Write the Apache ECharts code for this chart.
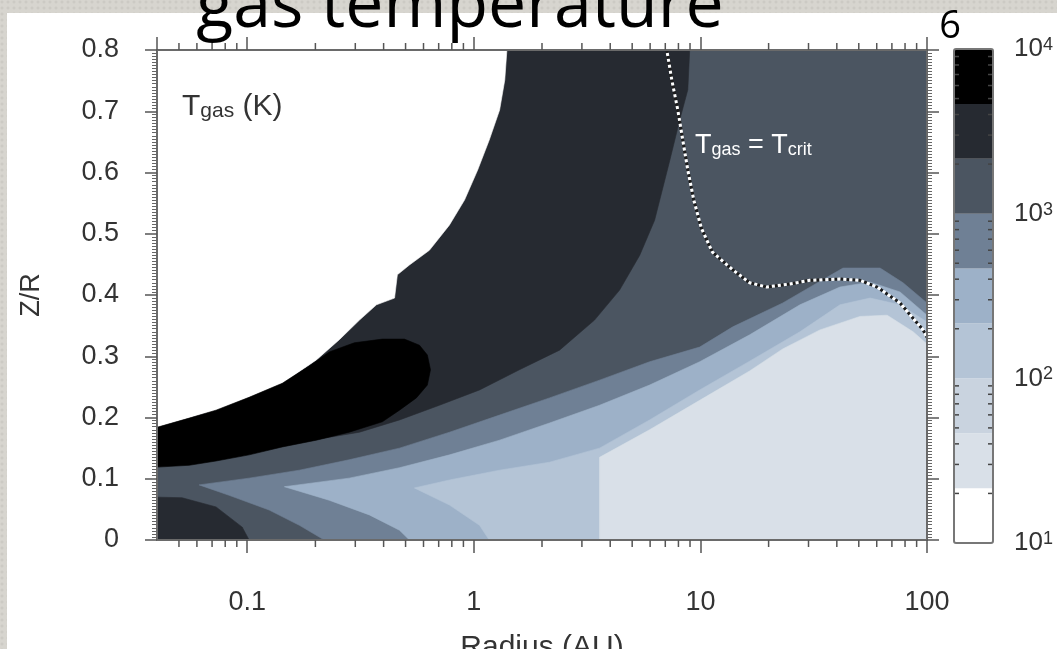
<!DOCTYPE html>
<html><head><meta charset="utf-8">
<script src="https://cdn.jsdelivr.net/npm/echarts@6/dist/echarts.min.js"></script>
<style>
html,body{margin:0;padding:0;width:1057px;height:649px;overflow:hidden;
 background:radial-gradient(circle at 2px 2px, rgba(0,0,0,0.05) 1px, transparent 2px) 0 0/6px 6px, #d7d5cf;}
#panel{position:absolute;left:7px;top:13px;right:0;bottom:0;background:#fff;}
#chart{position:absolute;left:0;top:0;width:1057px;height:649px;}
</style></head><body>
<div id="panel"></div><div id="chart"></div>
<script>
// ---- colour levels (K), 1/3-decade bands from 10 K to 10^4 K ----
const levelEdgesK = [10, 21.5, 46.4, 100, 215, 464, 1000, 2154, 4642, 10000];
const levelColors = ['#ffffff','#d9e0e8','#c9d3df','#b4c4d6','#9db1c8','#6f8095','#4b5561','#262a31','#000000'];

// ---- axis ticks ----
const xTickLabels = [0.1, 1, 10, 100];
const xMinorTicks = [0.05,0.06,0.07,0.08,0.09,0.2,0.3,0.4,0.5,0.6,0.7,0.8,0.9,2,3,4,5,6,7,8,9,20,30,40,50,60,70,80,90];
const cbarMinorTicks = [20,30,40,50,60,70,80,90,200,300,400,500,600,700,800,900,2000,3000,4000,5000,6000,7000,8000,9000];

// ---- contour regions, [radius (AU), Z/R] outlines ----
const regionL3Base = [[0.04,0],[100,0],[100,0.8],[0.04,0.8]];
const regionL2Upper = [[0.04,0.8],[8.97,0.8],[8.8,0.735],[8.11,0.686],[7.33,0.620],[6.28,0.522],[5.40,0.465],[4.40,0.408],[3.41,0.359],[2.39,0.310],[1.59,0.278],[1.06,0.245],[0.705,0.220],[0.470,0.196],[0.313,0.176],[0.208,0.165],[0.04,0.150]];
const regionL2Lower = [[0.04,0],[0.04,0.070],[0.0516,0.069],[0.0729,0.054],[0.0951,0.021],[0.102,0]];
const regionL4 = [[0.0614,0.090],[0.102,0.101],[0.170,0.114],[0.282,0.131],[0.470,0.150],[0.782,0.176],[1.30,0.204],[2.16,0.232],[3.59,0.261],[5.97,0.291],[9.93,0.315],[13.9,0.348],[23.1,0.387],[36.2,0.429],[42.6,0.444],[62.1,0.444],[78.4,0.420],[100,0.387],[100,0],[0.219,0],[0.170,0.024],[0.125,0.049],[0.0832,0.073]];
const regionL5 = [[0.146,0.087],[0.282,0.101],[0.470,0.118],[0.782,0.139],[1.30,0.163],[2.16,0.191],[3.59,0.220],[5.97,0.253],[9.93,0.291],[16.5,0.335],[27.5,0.384],[41.3,0.413],[56.1,0.421],[76.0,0.405],[100,0.367],[100,0],[0.520,0],[0.470,0.016],[0.346,0.041],[0.230,0.065]];
const regionL6 = [[0.547,0.085],[0.782,0.098],[1.30,0.114],[2.16,0.127],[3.59,0.150],[5.97,0.196],[9.93,0.245],[16.5,0.292],[27.5,0.340],[41.3,0.384],[56.1,0.395],[76.0,0.384],[100,0.356],[100,0],[1.17,0],[1.06,0.024],[0.782,0.057]];
const regionL8 = [[3.59,0],[3.59,0.135],[5.97,0.180],[9.93,0.228],[16.5,0.276],[23.1,0.312],[33.7,0.343],[50.6,0.365],[66.7,0.367],[86.8,0.340],[100,0.320],[100,0]];
const regionWhite = [[0.04,0.8],[1.40,0.8],[1.37,0.751],[1.30,0.702],[1.17,0.653],[1.04,0.604],[0.91,0.555],[0.78,0.514],[0.637,0.473],[0.52,0.449],[0.46,0.433],[0.447,0.395],[0.372,0.384],[0.313,0.359],[0.255,0.327],[0.202,0.294],[0.143,0.256],[0.102,0.233],[0.0729,0.212],[0.0555,0.199],[0.04,0.184]];
const regionL1Blob = [[0.04,0.184],[0.0555,0.199],[0.0729,0.212],[0.102,0.233],[0.143,0.256],[0.188,0.284],[0.230,0.307],[0.297,0.322],[0.395,0.328],[0.494,0.328],[0.576,0.318],[0.624,0.302],[0.644,0.278],[0.624,0.253],[0.558,0.232],[0.470,0.212],[0.395,0.193],[0.282,0.176],[0.202,0.163],[0.143,0.152],[0.102,0.139],[0.0729,0.129],[0.0555,0.122],[0.04,0.119]];

// ---- T_gas = T_crit curve ----
const tCritR = [7.11,7.48,7.95,8.36,8.80,9.35,10.1,11.3,13.9,16.5,19.6,24.8,30.4,41.3,50.6,60.2,76.0,86.8,96.1,100];
const tCritZ = [0.800,0.751,0.702,0.653,0.604,0.555,0.509,0.470,0.441,0.420,0.413,0.418,0.424,0.426,0.424,0.413,0.387,0.362,0.343,0.331];

const regions = [
  {level:6, pts:regionL3Base},
  {level:7, pts:regionL2Upper},
  {level:7, pts:regionL2Lower},
  {level:5, pts:regionL4},
  {level:4, pts:regionL5},
  {level:3, pts:regionL6},
  {level:1, pts:regionL8},
  {level:0, pts:regionWhite},
  {level:8, pts:regionL1Blob}
];

const FONT = '"Liberation Sans", Arial, sans-serif';
const chart = echarts.init(document.getElementById('chart'));

function xLabel(v){
  const e = Math.log10(v), r = Math.round(e);
  if (Math.abs(e - r) > 1e-6) return '';
  return r >= 0 ? String(Math.pow(10, r)) : Math.pow(10, r).toFixed(-r);
}
function cbLabel(v){
  const e = Math.log10(v), r = Math.round(e);
  if (Math.abs(e - r) > 1e-6) return '';
  return '10{s|' + r + '}';
}
const axisLineStyle = {color:'#6a6a6a', width:2};
const tickStyle = {color:'#555', width:1.5};

const option = {
  animation:false,
  backgroundColor:'transparent',
  grid:[
    {left:157, top:50, width:770, height:490, containLabel:false, outerBoundsMode:'none'},
    {left:954, top:49, width:39, height:494, containLabel:false, outerBoundsMode:'none'}
  ],
  xAxis:[
    {gridIndex:0, type:'log', logBase:10, min:0.04, max:100, position:'bottom', z:10,
     name:'Radius (AU)', nameLocation:'middle', nameGap:93,
     nameTextStyle:{fontFamily:FONT, fontSize:30, color:'#333'},
     axisLine:{show:true, onZero:false, lineStyle:axisLineStyle},
     axisTick:{show:true, inside:false, length:13, lineStyle:tickStyle},
     axisLabel:{formatter:xLabel, fontFamily:FONT, fontSize:27, color:'#333', margin:49, showMinLabel:false},
     splitLine:{show:false}},
    {gridIndex:0, type:'log', logBase:10, min:0.04, max:100, position:'top', z:10,
     axisLine:{show:true, onZero:false, lineStyle:axisLineStyle},
     axisTick:{show:true, inside:false, length:13, lineStyle:tickStyle},
     axisLabel:{show:false}, splitLine:{show:false}},
    {gridIndex:1, type:'value', min:0, max:1, show:false}
  ],
  yAxis:[
    {gridIndex:0, type:'value', min:0, max:0.8, interval:0.1, position:'left', z:10,
     name:'Z/R', nameLocation:'middle', nameGap:112, nameRotate:90,
     nameTextStyle:{fontFamily:FONT, fontSize:27, color:'#333'},
     axisLine:{show:true, onZero:false, lineStyle:axisLineStyle},
     axisTick:{show:true, inside:false, length:12, lineStyle:tickStyle},
     minorTick:{show:true, splitNumber:20, length:5, lineStyle:{color:'#666', width:1}},
     axisLabel:{fontFamily:FONT, fontSize:27, color:'#333', margin:38},
     splitLine:{show:false}, minorSplitLine:{show:false}},
    {gridIndex:0, type:'value', min:0, max:0.8, interval:0.1, position:'right', z:10,
     axisLine:{show:true, onZero:false, lineStyle:axisLineStyle},
     axisTick:{show:true, inside:false, length:12, lineStyle:tickStyle},
     minorTick:{show:true, splitNumber:20, length:5, lineStyle:{color:'#666', width:1}},
     axisLabel:{show:false}, splitLine:{show:false}, minorSplitLine:{show:false}},
    {gridIndex:1, type:'log', logBase:10, min:10, max:10000, position:'right',
     axisLine:{show:false}, axisTick:{show:false}, splitLine:{show:false},
     axisLabel:{formatter:cbLabel, margin:21, fontFamily:FONT, fontSize:26, color:'#333',
       rich:{s:{fontFamily:FONT, fontSize:18, color:'#333', verticalAlign:'top', lineHeight:14}}}}
  ],
  series:[
    {type:'custom', name:'Tgas', xAxisIndex:0, yAxisIndex:0, z:2, silent:true,
     data: regions.map((r,i)=>[r.pts[0][0], r.pts[0][1], i]),
     renderItem:function(params, api){
       const reg = regions[api.value(2)];
       const pts = reg.pts.map(p=>api.coord(p));
       return {type:'polygon', shape:{points:pts},
               style:{fill:levelColors[reg.level], stroke:levelColors[reg.level], lineWidth:0.6}};
     }},
    {type:'line', name:'Tcrit dark', xAxisIndex:0, yAxisIndex:0, z:5, silent:true, showSymbol:false,
     data: tCritR.map((r,i)=>[r, tCritZ[i]]),
     lineStyle:{color:'#1c1c1c', width:3, type:[3,3]}},
    {type:'line', name:'Tcrit light', xAxisIndex:0, yAxisIndex:0, z:6, silent:true, showSymbol:false,
     data: tCritR.map((r,i)=>[r, tCritZ[i]]),
     lineStyle:{color:'#ffffff', width:3, type:[3,3], dashOffset:3}},
    {type:'custom', name:'xminor', xAxisIndex:0, yAxisIndex:0, z:11, silent:true, clip:false,
     data: xMinorTicks.map(v=>[v, 0]),
     renderItem:function(params, api){
       const pb = api.coord([api.value(0), 0]);
       const pt = api.coord([api.value(0), 0.8]);
       return {type:'group', children:[
         {type:'line', shape:{x1:pb[0], y1:pb[1], x2:pb[0], y2:pb[1]+7}, style:{stroke:'#555', lineWidth:1.5}},
         {type:'line', shape:{x1:pt[0], y1:pt[1], x2:pt[0], y2:pt[1]-7}, style:{stroke:'#555', lineWidth:1.5}}
       ]};
     }},
    {type:'custom', name:'colorbar', xAxisIndex:2, yAxisIndex:2, z:2, silent:true,
     data: levelColors.map((c,i)=>[0, levelEdgesK[i], levelEdgesK[i+1], i]),
     renderItem:function(params, api){
       const p0 = api.coord([0, api.value(1)]);
       const p1 = api.coord([1, api.value(2)]);
       return {type:'rect', shape:{x:p0[0], y:p1[1], width:p1[0]-p0[0], height:p0[1]-p1[1]},
               style:{fill:levelColors[api.value(3)]}};
     }},
    {type:'custom', name:'cbticks', xAxisIndex:2, yAxisIndex:2, z:3, silent:true,
     data: cbarMinorTicks.map(v=>[0, v]),
     renderItem:function(params, api){
       const pl = api.coord([0, api.value(1)]);
       const pr = api.coord([1, api.value(1)]);
       return {type:'group', children:[
         {type:'line', shape:{x1:pl[0], y1:pl[1], x2:pl[0]+5, y2:pl[1]}, style:{stroke:'#444', lineWidth:1.5}},
         {type:'line', shape:{x1:pr[0], y1:pr[1], x2:pr[0]-5, y2:pr[1]}, style:{stroke:'#444', lineWidth:1.5}}
       ]};
     }},
    {type:'custom', name:'cbframe', xAxisIndex:2, yAxisIndex:2, z:4, silent:true,
     data: [[0, levelEdgesK[0], levelEdgesK[levelEdgesK.length-1]]],
     renderItem:function(params, api){
       const p0 = api.coord([0, api.value(1)]);
       const p1 = api.coord([1, api.value(2)]);
       return {type:'rect', shape:{x:p0[0], y:p1[1], width:p1[0]-p0[0], height:p0[1]-p1[1], r:2},
               style:{fill:'none', stroke:'#777', lineWidth:2}};
     }}
  ],
  graphic:[
    {type:'text', z:20, silent:true,
     style:{text:'gas temperature', x:460, y:8, fontFamily:'"Open Sans", sans-serif', fontSize:68, fill:'#000', align:'center', verticalAlign:'middle'}},
    {type:'text', z:20, silent:true,
     style:{text:'6', x:950, y:27, fontFamily:'"Open Sans", sans-serif', fontSize:38, fill:'#000', align:'center', verticalAlign:'middle'}},
    {type:'text', z:20, silent:true,
     style:{text:'{t|T}{s|gas}{t| (K)}', x:182, y:105, verticalAlign:'middle',
       rich:{t:{fontFamily:FONT, fontSize:30, fill:'#333', lineHeight:34, verticalAlign:'bottom'},
             s:{fontFamily:FONT, fontSize:21, fill:'#333', lineHeight:12, verticalAlign:'bottom'}}}},
    {type:'text', z:20, silent:true,
     style:{text:'{t|T}{s|gas}{t| = T}{s|crit}', x:695, y:144, verticalAlign:'middle',
       rich:{t:{fontFamily:FONT, fontSize:27, fill:'#fff', lineHeight:30, verticalAlign:'bottom'},
             s:{fontFamily:FONT, fontSize:18, fill:'#fff', lineHeight:10, verticalAlign:'bottom'}}}}
  ]
};
chart.setOption(option);
</script></body></html>
